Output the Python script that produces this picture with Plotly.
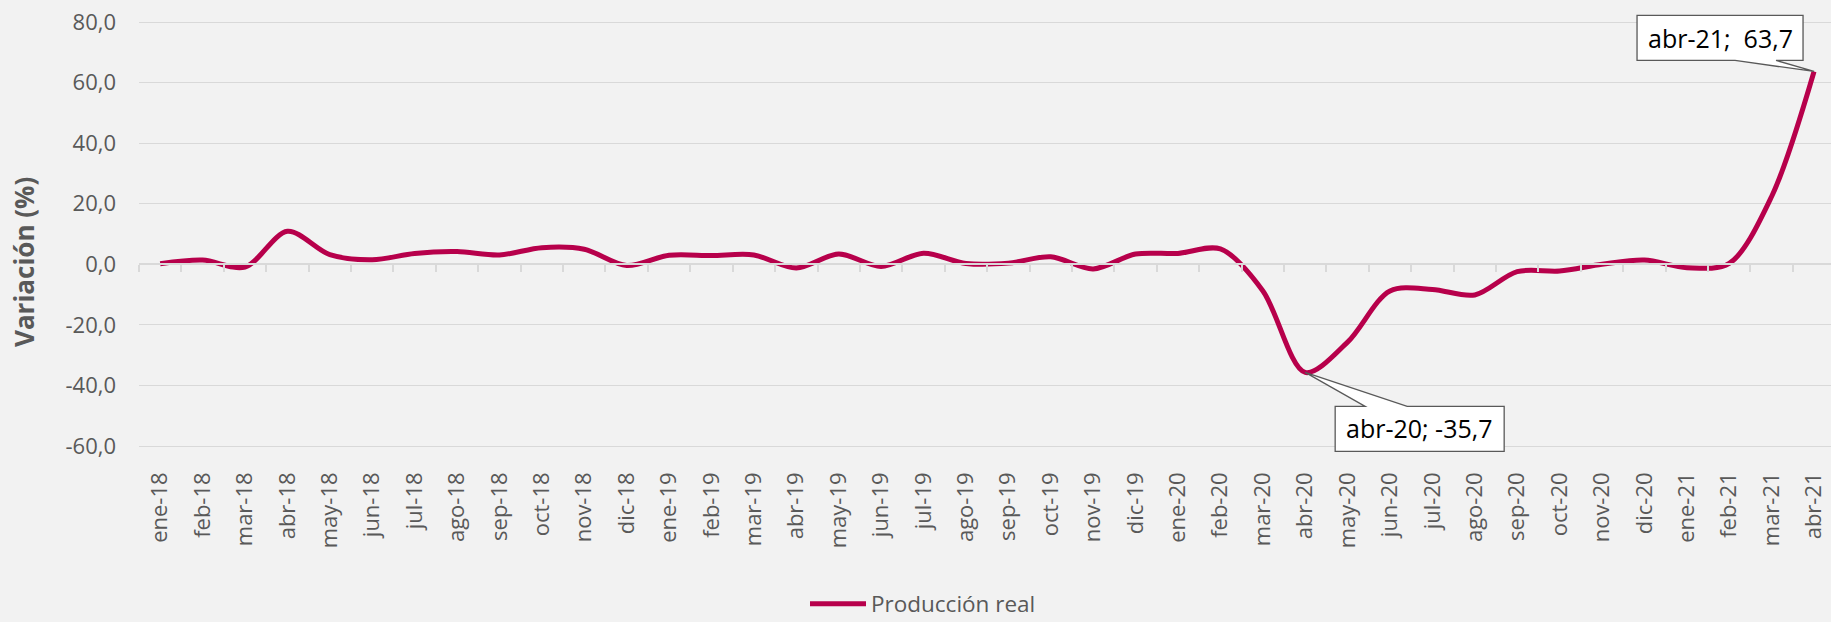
import plotly.graph_objects as go

categories = ["ene-18","feb-18","mar-18","abr-18","may-18","jun-18","jul-18","ago-18","sep-18","oct-18","nov-18","dic-18",
              "ene-19","feb-19","mar-19","abr-19","may-19","jun-19","jul-19","ago-19","sep-19","oct-19","nov-19","dic-19",
              "ene-20","feb-20","mar-20","abr-20","may-20","jun-20","jul-20","ago-20","sep-20","oct-20","nov-20","dic-20",
              "ene-21","feb-21","mar-21","abr-21"]
produccion_real = [0.2, 1.4, -0.9, 10.9, 3.2, 1.5, 3.6, 4.2, 3.1, 5.5, 5.0, -0.4,
                   3.0, 2.9, 3.1, -1.2, 3.4, -0.7, 3.7, 0.3, 0.4, 2.5, -1.5, 3.4,
                   3.6, 5.1, -8.7, -35.7, -25.7, -8.8, -8.3, -10.1, -2.4, -2.2, 0.0, 1.4,
                   -1.1, 0.3, 22.4, 63.7]
y_ticks = [-60, -40, -20, 0, 20, 40, 60, 80]
y_ticktext = [f"{v:.1f}".replace(".", ",") for v in y_ticks]
series_name = "Producción real"
y_title = "Variación (%)"
callout_labels = {"abr-20": "abr-20; -35,7", "abr-21": "abr-21;  63,7"}

LINE = "#B7004B"
GRID = "#D9D9D9"
TXT = "#595959"
BG = "#F2F2F2"
FONT = "Open Sans"

# plot area (px) – extended a little beyond the -60..80 grid so callouts are not clipped
PL, PR, PT, PB = 139, 1831, 10, 456
ymin, ymax = -63.3, 84.0
PH = PB - PT

fig = go.Figure()
fig.add_trace(go.Scatter(
    x=categories, y=produccion_real, mode="lines", name=series_name,
    line=dict(color=LINE, width=5, shape="spline", smoothing=0.9),
    cliponaxis=False, hoverinfo="x+y"))
# invisible helper trace for the category axis drawn at y = 0 (ticks between categories)
fig.add_trace(go.Scatter(
    x=categories, y=produccion_real, mode="lines", xaxis="x2", showlegend=False,
    line=dict(color="rgba(0,0,0,0)", width=0), hoverinfo="skip"))

fig.update_layout(
    width=1831, height=622,
    margin=dict(l=PL, r=1831 - PR, t=PT, b=622 - PB, autoexpand=False),
    paper_bgcolor=BG, plot_bgcolor=BG,
    font=dict(family=FONT, size=22, color=TXT),
    showlegend=True,
    legend=dict(orientation="h", x=(805 - PL) / (PR - PL), xanchor="left",
                y=-(604 - PB) / PH, yanchor="middle", itemwidth=56,
                font=dict(family=FONT, size=22.5, color=TXT),
                bgcolor="rgba(0,0,0,0)"),
    xaxis=dict(type="category", range=[-0.5, 39.4], showgrid=False, zeroline=False,
               showline=False, ticks="", tickangle=-90, ticklabelstandoff=11,
               automargin=False,
               tickfont=dict(family=FONT, size=22, color=TXT)),
    xaxis2=dict(type="category", overlaying="x", anchor="free",
                position=(0 - ymin) / (ymax - ymin), range=[-0.5, 39.4],
                showgrid=False, zeroline=False, showline=True, linecolor=GRID, linewidth=1.5,
                ticks="outside", ticklen=7, tickwidth=1.5, tickcolor=GRID,
                tickson="boundaries", showticklabels=False, side="bottom"),
    yaxis=dict(range=[ymin, ymax], tickvals=y_ticks, ticktext=y_ticktext,
               showgrid=True, gridcolor=GRID, gridwidth=1, zeroline=False,
               showline=False, ticks="", ticklabelstandoff=22, automargin=False,
               tickfont=dict(family=FONT, size=22, color=TXT)),
)

fig.add_annotation(text="<b>" + y_title + "</b>", textangle=-90, xref="paper", yref="paper",
                   x=(24 - PL) / (PR - PL), y=(PB - 262) / PH, xanchor="center", yanchor="middle",
                   showarrow=False, font=dict(family=FONT, size=26, color=TXT))

# callouts (box + wedge drawn as pixel-sized shapes anchored on the data point)
callout_geom = {
    "abr-20": dict(path="M0,0 L60,-34 L30,-34 L30,-79 L199,-79 L199,-34 L102,-34 Z", xshift=114.5, yshift=-56),
    "abr-21": dict(path="M0,0 L-38,11 L-11,11 L-11,56 L-177,56 L-177,11 L-79,11 Z", xshift=-94, yshift=33),
}
for cat, label in callout_labels.items():
    idx = categories.index(cat)
    val = produccion_real[idx]
    g = callout_geom[cat]
    fig.add_shape(type="path", xref="x", yref="y", xsizemode="pixel", ysizemode="pixel",
                  xanchor=idx, yanchor=val, path=g["path"],
                  fillcolor="white", line=dict(color="#595959", width=1.3), layer="above")
    fig.add_annotation(x=cat, y=val, xref="x", yref="y", text=label, showarrow=False,
                       xshift=g["xshift"], yshift=g["yshift"], xanchor="center", yanchor="middle",
                       font=dict(family=FONT, size=25, color="#000000"))

fig.write_html("out.html", config={"displayModeBar": False},
               post_script="document.body.style.margin='0';document.body.style.background='#F2F2F2';")
